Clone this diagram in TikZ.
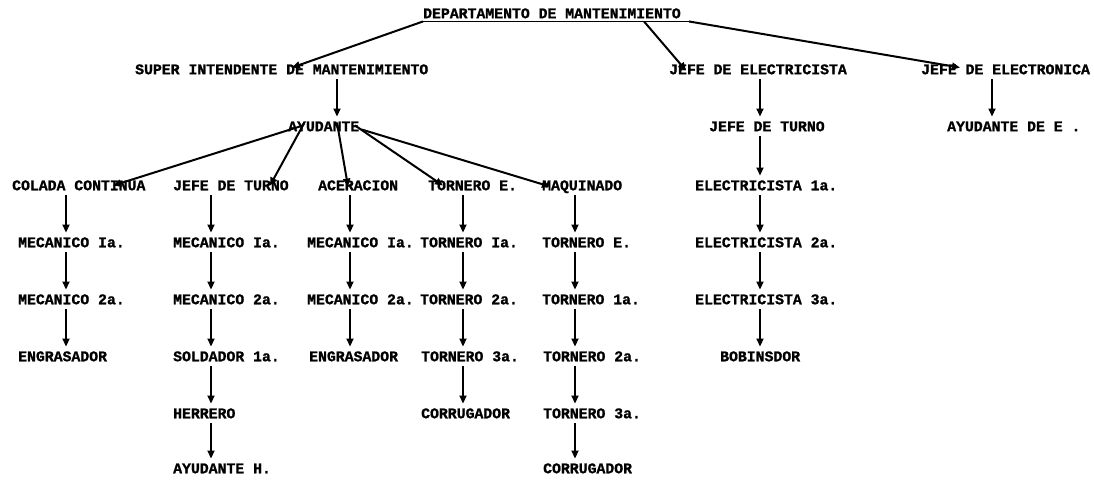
\documentclass[tikz,border=0pt]{standalone}
\usepackage{fontspec}
\setmainfont{Liberation Mono}[BoldFeatures={FakeBold=1.2}]
\usetikzlibrary{arrows.meta}
\begin{document}
\begin{tikzpicture}[x=1pt,y=-1pt,
  lbl/.style={anchor=west,inner sep=0pt,text height=8.5pt,text depth=0pt,font=\fontsize{14.8}{15}\selectfont\bfseries},
  tip/.style={-{Triangle[length=8pt,width=7pt]}},
  arr/.style={tip,line width=1.7pt,shorten <=5pt,shorten >=6pt},
  darr/.style={tip,line width=2pt}]
\useasboundingbox[fill=white] (0,0) rectangle (1094,481);
% top
\node[lbl] (dep) at (423,14) {DEPARTAMENTO DE MANTENIMIENTO};
\coordinate (ul) at ([yshift=-3pt,xshift=8pt]dep.south east);
\draw[line width=1.6pt] ([yshift=-3pt]dep.south west) -- (ul);
% row 2
\node[lbl] (sup) at (135,70) {SUPER INTENDENTE DE MANTENIMIENTO};
\node[lbl] (jel) at (669,70) {JEFE DE ELECTRICISTA};
\node[lbl] (jeo) at (921,70) {JEFE DE ELECTRONICA};
% row 3
\node[lbl] (ayu) at (288,127) {AYUDANTE};
\node[lbl] (ejt) at (709,127) {JEFE DE TURNO};
\node[lbl] (aye) at (947,127) {AYUDANTE DE E .};
% row 4
\node[lbl] (col) at (12,186) {COLADA CONTINUA};
\node[lbl] (jt)  at (173,186) {JEFE DE TURNO};
\node[lbl] (ace) at (318,186) {ACERACION};
\node[lbl] (toe) at (428,186) {TORNERO E.};
\node[lbl] (maq) at (542,186) {MAQUINADO};
\node[lbl] (el1) at (695,186) {ELECTRICISTA 1a.};
% row 5
\node[lbl] (am1) at (18,243) {MECANICO Ia.};
\node[lbl] (bm1) at (173,243) {MECANICO Ia.};
\node[lbl] (cm1) at (307,243) {MECANICO Ia.};
\node[lbl] (dt1) at (420,243) {TORNERO Ia.};
\node[lbl] (ete) at (542,243) {TORNERO E.};
\node[lbl] (el2) at (695,243) {ELECTRICISTA 2a.};
% row 6
\node[lbl] (am2) at (18,300) {MECANICO 2a.};
\node[lbl] (bm2) at (173,300) {MECANICO 2a.};
\node[lbl] (cm2) at (307,300) {MECANICO 2a.};
\node[lbl] (dt2) at (420,300) {TORNERO 2a.};
\node[lbl] (et1) at (542,300) {TORNERO 1a.};
\node[lbl] (el3) at (695,300) {ELECTRICISTA 3a.};
% row 7
\node[lbl] (aen) at (18,357) {ENGRASADOR};
\node[lbl] (bso) at (173,357) {SOLDADOR 1a.};
\node[lbl] (cen) at (309,357) {ENGRASADOR};
\node[lbl] (dt3) at (421,357) {TORNERO 3a.};
\node[lbl] (et2) at (543,357) {TORNERO 2a.};
\node[lbl] (bob) at (720,357) {BOBINSDOR};
% row 8
\node[lbl] (bhe) at (173,414) {HERRERO};
\node[lbl] (dco) at (421,414) {CORRUGADOR};
\node[lbl] (et3) at (543,414) {TORNERO 3a.};
% row 9
\node[lbl] (bah) at (173,469) {AYUDANTE H.};
\node[lbl] (eco) at (543,469) {CORRUGADOR};
% column x coordinates
\coordinate (xa) at (66,0);
\coordinate (xb) at (211,0);
\coordinate (xc) at (350,0);
\coordinate (xd) at (463,0);
\coordinate (xe) at (575,0);
\coordinate (xs) at (337,0);
\coordinate (xl) at (760,0);
\coordinate (xo) at (992,0);
% top arrows
\draw[darr] ([yshift=-3pt]dep.south west) -- ([xshift=157pt,yshift=-2pt]sup.north west);
\draw[darr] ([xshift=221pt,yshift=-3pt]dep.south west) -- ([xshift=17pt,yshift=-5pt]jel.north west);
\draw[darr] (ul) -- ([xshift=39pt,yshift=-2pt]jeo.north west);
% ayudante fan
\draw[darr] ([xshift=12pt,yshift=5pt]ayu.south west) -- ([xshift=101pt,yshift=-4pt]col.north west);
\draw[darr] ([xshift=16pt,yshift=8pt]ayu.south west) -- ([xshift=97pt,yshift=-4pt]jt.north west);
\draw[darr] ([xshift=49pt,yshift=9pt]ayu.south west) -- ([xshift=30pt,yshift=-5pt]ace.north west);
\draw[darr] ([xshift=67pt,yshift=6pt]ayu.south west) -- ([xshift=15pt,yshift=-4pt]toe.north west);
\draw[darr] ([xshift=2pt,yshift=2pt]ayu.south east) -- ([xshift=8pt,yshift=-5pt]maq.north west);
% verticals
\draw[arr] (sup.south -| xs) -- (ayu.north -| xs);
\draw[arr] (col.south -| xa) -- (am1.north -| xa);
\draw[arr] (am1.south -| xa) -- (am2.north -| xa);
\draw[arr] (am2.south -| xa) -- (aen.north -| xa);
\draw[arr] (jt.south -| xb) -- (bm1.north -| xb);
\draw[arr] (bm1.south -| xb) -- (bm2.north -| xb);
\draw[arr] (bm2.south -| xb) -- (bso.north -| xb);
\draw[arr] (bso.south -| xb) -- (bhe.north -| xb);
\draw[arr] (bhe.south -| xb) -- (bah.north -| xb);
\draw[arr] (ace.south -| xc) -- (cm1.north -| xc);
\draw[arr] (cm1.south -| xc) -- (cm2.north -| xc);
\draw[arr] (cm2.south -| xc) -- (cen.north -| xc);
\draw[arr] (toe.south -| xd) -- (dt1.north -| xd);
\draw[arr] (dt1.south -| xd) -- (dt2.north -| xd);
\draw[arr] (dt2.south -| xd) -- (dt3.north -| xd);
\draw[arr] (dt3.south -| xd) -- (dco.north -| xd);
\draw[arr] (maq.south -| xe) -- (ete.north -| xe);
\draw[arr] (ete.south -| xe) -- (et1.north -| xe);
\draw[arr] (et1.south -| xe) -- (et2.north -| xe);
\draw[arr] (et2.south -| xe) -- (et3.north -| xe);
\draw[arr] (et3.south -| xe) -- (eco.north -| xe);
\draw[arr] (jel.south -| xl) -- (ejt.north -| xl);
\draw[arr] (ejt.south -| xl) -- (el1.north -| xl);
\draw[arr] (el1.south -| xl) -- (el2.north -| xl);
\draw[arr] (el2.south -| xl) -- (el3.north -| xl);
\draw[arr] (el3.south -| xl) -- (bob.north -| xl);
\draw[arr] (jeo.south -| xo) -- (aye.north -| xo);
\end{tikzpicture}
\end{document}
